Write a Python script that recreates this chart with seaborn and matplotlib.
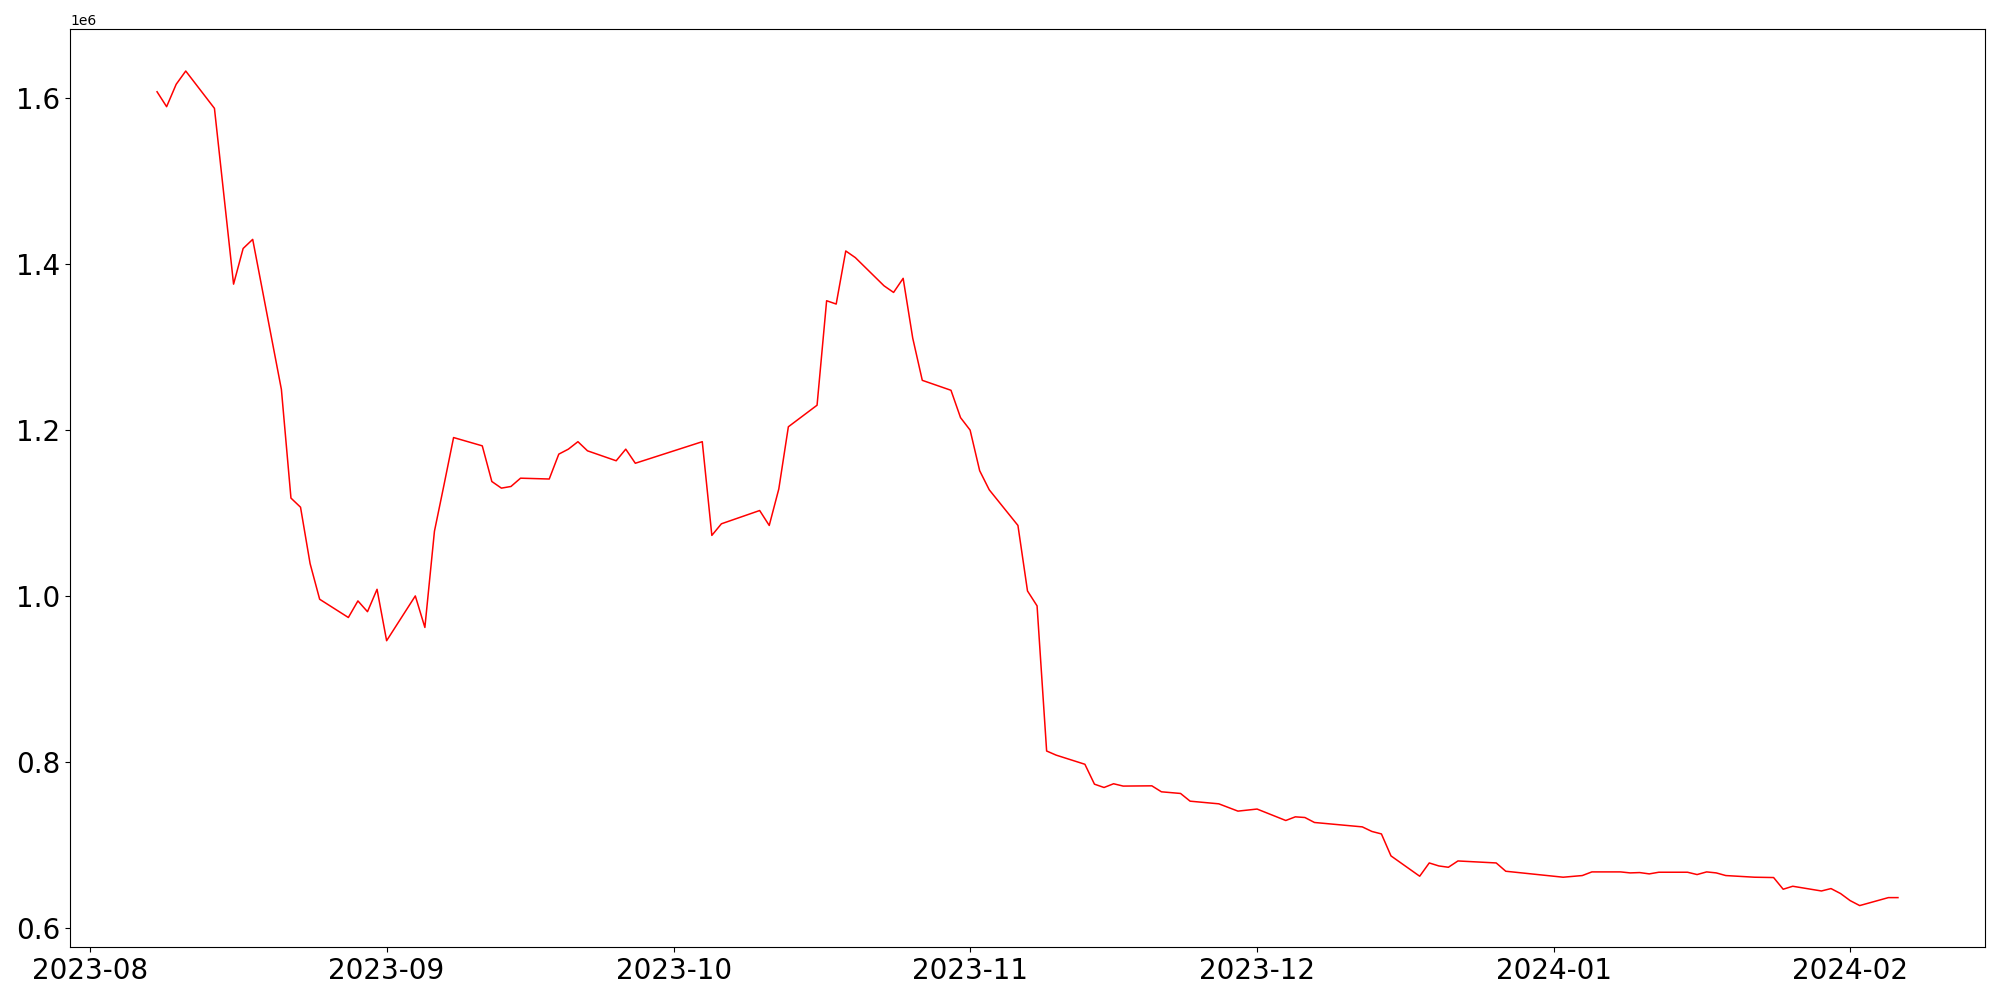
import pandas as pd
import matplotlib
matplotlib.use('Agg')
import matplotlib.pyplot as plt
import seaborn as sns

# ─────────────────────────────────────────────
# DATA
# ─────────────────────────────────────────────
dates = [
    '2023-08-08', '2023-08-09', '2023-08-10', '2023-08-11', '2023-08-14',
    '2023-08-16', '2023-08-17', '2023-08-18', '2023-08-21', '2023-08-22',
    '2023-08-23', '2023-08-24', '2023-08-25', '2023-08-28', '2023-08-29',
    '2023-08-30', '2023-08-31', '2023-09-01', '2023-09-04', '2023-09-05',
    '2023-09-06', '2023-09-07', '2023-09-08', '2023-09-11', '2023-09-12',
    '2023-09-13', '2023-09-14', '2023-09-15', '2023-09-18', '2023-09-19',
    '2023-09-20', '2023-09-21', '2023-09-22', '2023-09-25', '2023-09-26',
    '2023-09-27', '2023-10-04', '2023-10-05', '2023-10-06', '2023-10-10',
    '2023-10-11', '2023-10-12', '2023-10-13', '2023-10-16', '2023-10-17',
    '2023-10-18', '2023-10-19', '2023-10-20', '2023-10-23', '2023-10-24',
    '2023-10-25', '2023-10-26', '2023-10-27', '2023-10-30', '2023-10-31',
    '2023-11-01', '2023-11-02', '2023-11-03', '2023-11-06', '2023-11-07',
    '2023-11-08', '2023-11-09', '2023-11-10', '2023-11-13', '2023-11-14',
    '2023-11-15', '2023-11-16', '2023-11-17', '2023-11-20', '2023-11-21',
    '2023-11-23', '2023-11-24', '2023-11-27', '2023-11-29', '2023-12-01',
    '2023-12-04', '2023-12-05', '2023-12-06', '2023-12-07', '2023-12-12',
    '2023-12-13', '2023-12-14', '2023-12-15', '2023-12-18', '2023-12-19',
    '2023-12-20', '2023-12-21', '2023-12-22', '2023-12-26', '2023-12-27',
    '2024-01-02', '2024-01-04', '2024-01-05', '2024-01-08', '2024-01-09',
    '2024-01-10', '2024-01-11', '2024-01-12', '2024-01-15', '2024-01-16',
    '2024-01-17', '2024-01-18', '2024-01-19', '2024-01-22', '2024-01-24',
    '2024-01-25', '2024-01-26', '2024-01-29', '2024-01-30', '2024-01-31',
    '2024-02-01', '2024-02-02', '2024-02-05', '2024-02-06',
]

values = [
    1608000, 1590000, 1617000, 1633000, 1588000,
    1376000, 1419000, 1430000, 1249000, 1118000,
    1107000, 1039000, 996000, 974000, 994000,
    981000, 1008000, 946000, 1000000, 962000,
    1078000, 1134000, 1191000, 1181000, 1138000,
    1130000, 1132000, 1142000, 1141000, 1171000,
    1177000, 1186000, 1175000, 1163000, 1177000,
    1160000, 1186000, 1073000, 1087000, 1103000,
    1085000, 1129000, 1204000, 1230000, 1356000,
    1352000, 1416000, 1408000, 1374000, 1366000,
    1383000, 1311000, 1260000, 1248000, 1215000,
    1200000, 1151000, 1128000, 1085000, 1006000,
    988000, 813000, 808000, 797000, 773000,
    769000, 773500, 770700, 771000, 763800,
    761800, 752500, 749300, 740500, 743000,
    729200, 733600, 732800, 726800, 721500,
    716000, 713000, 686500, 662000, 678000,
    674400, 672800, 680400, 678000, 668000,
    660800, 662800, 667200, 667200, 666000,
    666400, 664800, 666800, 666800, 664000,
    667200, 666000, 662800, 660800, 660400,
    646300, 649900, 644200, 647100, 641100,
    632600, 626600, 636200, 636200,
]

df = pd.DataFrame({'Date': pd.to_datetime(dates), 'Value': values})

# ─────────────────────────────────────────────
# PLOT
# ─────────────────────────────────────────────
fig, ax = plt.subplots(figsize=(20, 10), dpi=100)

sns.lineplot(data=df, x='Date', y='Value', color='red', linewidth=1.1, ax=ax)

ax.set_xlabel('')
ax.set_ylabel('')
ax.tick_params(axis='both', labelsize=20)

fig.subplots_adjust(left=0.035, right=0.9925, top=0.9707, bottom=0.0527)
plt.savefig('out.png', dpi=100)
plt.close()
